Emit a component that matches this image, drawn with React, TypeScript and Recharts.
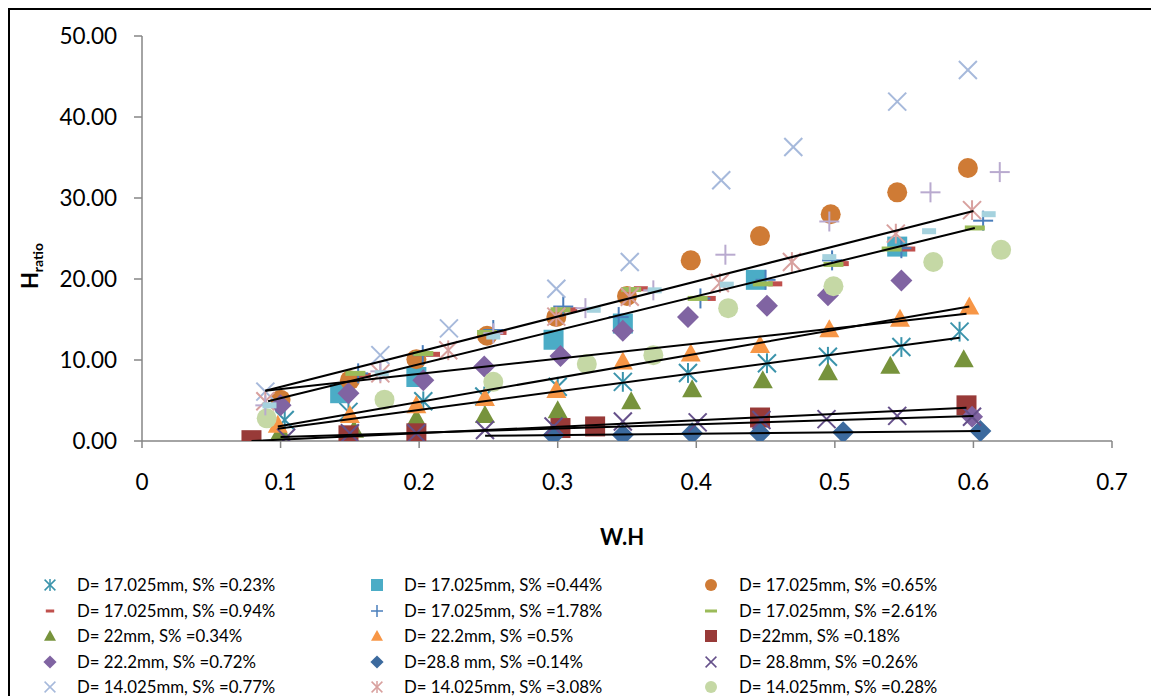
import React from 'react';
import { ScatterChart, Scatter, XAxis, YAxis } from 'recharts';

const FONT = 'Lato, "Open Sans", sans-serif';

// ---- axis ticks ----
const xTicks = [0, 0.1, 0.2, 0.3, 0.4, 0.5, 0.6, 0.7];
const yTicks = [0, 10, 20, 30, 40, 50];

// ---- series values [W.H, Hratio] ----
const s_17_023: number[][] = [[0.103,2.6],[0.149,3.6],[0.203,4.9],[0.247,5.5],[0.3,6.7],[0.347,7.3],[0.394,8.4],[0.451,9.6],[0.495,10.4],[0.548,11.6],[0.59,13.5]];
const s_17_044: number[][] = [[0.143,5.9],[0.198,7.9],[0.297,12.5],[0.347,14.5],[0.443,19.9],[0.545,24.0]];
const s_17_065: number[][] = [[0.1,5.1],[0.15,7.5],[0.198,10.1],[0.249,13.0],[0.299,15.3],[0.35,17.9],[0.396,22.3],[0.446,25.3],[0.497,28.0],[0.545,30.7],[0.596,33.7]];
const s_17_094: number[][] = [[0.16,8.1],[0.21,10.7],[0.258,13.4],[0.309,16.2],[0.36,18.8],[0.409,17.6],[0.457,19.4],[0.505,21.9],[0.553,23.7]];
const s_17_178: number[][] = [[0.156,8.35],[0.2026,10.6],[0.2535,13.7],[0.304,16.6],[0.344,15.3],[0.403,17.6],[0.45,19.9],[0.498,22.3],[0.548,23.8],[0.607,27.2]];
const s_17_261: number[][] = [[0.154,8.35],[0.203,10.8],[0.249,13.4],[0.302,16.2],[0.353,18.7],[0.401,17.6],[0.448,19.4],[0.499,21.8],[0.541,23.7],[0.601,26.3]];
const s_22_034: number[][] = [[0.1,1.2],[0.153,1.4],[0.198,2.8],[0.2475,3.2],[0.3,3.8],[0.353,4.9],[0.397,6.4],[0.448,7.5],[0.495,8.5],[0.54,9.3],[0.593,10.1]];
const s_222_05: number[][] = [[0.098,2.0],[0.15,3.2],[0.198,4.4],[0.2475,5.3],[0.299,6.3],[0.347,9.8],[0.396,10.8],[0.446,11.85],[0.496,13.8],[0.547,15.1],[0.597,16.6]];
const s_22_018: number[][] = [[0.079,0.1],[0.149,0.7],[0.198,0.95],[0.302,1.6],[0.327,1.8],[0.446,2.9],[0.595,4.4]];
const s_222_072: number[][] = [[0.1,4.4],[0.149,5.9],[0.203,7.5],[0.247,9.2],[0.302,10.5],[0.347,13.6],[0.394,15.3],[0.451,16.7],[0.495,18.0],[0.548,19.8],[0.599,3.0]];
const s_288_014: number[][] = [[0.297,0.74],[0.347,0.74],[0.397,0.95],[0.446,0.95],[0.506,1.07],[0.605,1.23]];
const s_288_026: number[][] = [[0.104,0.4],[0.15,0.95],[0.198,0.95],[0.2475,1.35],[0.297,1.8],[0.347,2.4],[0.401,2.3],[0.447,2.6],[0.494,2.7],[0.545,3.1],[0.599,3.0]];
const s_14_077: number[][] = [[0.089,6.1],[0.172,10.6],[0.2215,13.9],[0.299,18.8],[0.352,22.1],[0.418,32.2],[0.47,36.3],[0.545,41.9],[0.596,45.8]];
const s_14_308: number[][] = [[0.089,4.9],[0.172,8.35],[0.221,11.2],[0.299,15.35],[0.352,17.8],[0.417,19.5],[0.469,22.1],[0.544,25.6],[0.599,28.5]];
const s_14_028: number[][] = [[0.09,2.8],[0.175,5.1],[0.2535,7.3],[0.321,9.5],[0.369,10.6],[0.423,16.4],[0.499,19.1],[0.571,22.1],[0.62,23.6]];
const s_extra_plus: number[][] = [[0.089,4.4],[0.172,8.6],[0.2535,13.3],[0.32,16.4],[0.369,18.6],[0.421,23.0],[0.496,27.1],[0.569,30.7],[0.619,33.2]];
const s_extra_dash: number[][] = [[0.092,4.4],[0.173,8.35],[0.2535,12.9],[0.326,16.2],[0.37,18.6],[0.422,19.3],[0.496,22.7],[0.568,25.9],[0.611,28.0]];

// ---- linear trend lines (end points) ----
const t_14_308: number[][] = [[0.089,6.2],[0.6,28.4]];
const t_17_261: number[][] = [[0.091,4.9],[0.601,26.3]];
const t_222_072: number[][] = [[0.089,6.2],[0.595,15.7]];
const t_222_05: number[][] = [[0.098,1.8],[0.597,16.6]];
const t_17_023: number[][] = [[0.098,1.5],[0.59,12.75]];
const t_22_018: number[][] = [[0.079,0.0],[0.595,4.1]];
const t_288_026: number[][] = [[0.1,0.5],[0.6,3.1]];
const t_288_014: number[][] = [[0.2476,0.65],[0.605,1.23]];

type Kind = 'circle' | 'square' | 'triangle' | 'diamond' | 'x' | 'star' | 'plus' | 'dash';

interface SeriesDef {
  name: string;
  data: number[][];
  kind: Kind;
  color: string;
  size: number;
  dashW?: number;
  dashH?: number;
}

const series: SeriesDef[] = [
  { name: 'D= 17.025mm, S% =0.23%', data: s_17_023, kind: 'star', color: '#3A93AB', size: 9 },
  { name: 'D= 17.025mm, S% =0.44%', data: s_17_044, kind: 'square', color: '#4BACC6', size: 10 },
  { name: 'D= 17.025mm, S% =0.65%', data: s_17_065, kind: 'circle', color: '#CF7B35', size: 10 },
  { name: 'D= 17.025mm, S% =0.94%', data: s_17_094, kind: 'dash', color: '#C0504D', size: 7, dashW: 14, dashH: 5 },
  { name: 'D= 17.025mm, S% =1.78%', data: s_17_178, kind: 'plus', color: '#4A7EBB', size: 10 },
  { name: 'D= 17.025mm, S% =2.61%', data: s_17_261, kind: 'dash', color: '#9BBB59', size: 10, dashW: 20, dashH: 5 },
  { name: 'D= 22mm, S% =0.34%', data: s_22_034, kind: 'triangle', color: '#77933C', size: 10 },
  { name: 'D= 22.2mm, S% =0.5%', data: s_222_05, kind: 'triangle', color: '#F79646', size: 10 },
  { name: 'D=22mm, S% =0.18%', data: s_22_018, kind: 'square', color: '#983A38', size: 10 },
  { name: 'D= 22.2mm, S% =0.72%', data: s_222_072, kind: 'diamond', color: '#8064A2', size: 11 },
  { name: 'D=28.8 mm, S% =0.14%', data: s_288_014, kind: 'diamond', color: '#3C6A9E', size: 11 },
  { name: 'D= 28.8mm, S% =0.26%', data: s_288_026, kind: 'x', color: '#65508A', size: 9 },
  { name: 'D= 14.025mm, S% =0.77%', data: s_14_077, kind: 'x', color: '#A6B9DB', size: 9 },
  { name: 'D= 14.025mm, S% =3.08%', data: s_14_308, kind: 'star', color: '#D8A09E', size: 9 },
  { name: 'D= 14.025mm, S% =0.28%', data: s_14_028, kind: 'circle', color: '#C5D8A5', size: 10 },
  { name: '', data: s_extra_plus, kind: 'plus', color: '#B9AACF', size: 10 },
  { name: '', data: s_extra_dash, kind: 'dash', color: '#A5D2DE', size: 7, dashW: 14, dashH: 6 },
];

const trends: number[][][] = [t_14_308, t_17_261, t_222_072, t_222_05, t_17_023, t_22_018, t_288_026, t_288_014];

function marker(def: SeriesDef, cx: number, cy: number, scale: number) {
  const s = def.size * scale;
  const c = def.color;
  const sw = 2 * Math.max(scale, 0.75);
  switch (def.kind) {
    case 'circle':
      return <circle cx={cx} cy={cy} r={s} fill={c} />;
    case 'square':
      return <rect x={cx - s} y={cy - s} width={2 * s} height={2 * s} fill={c} />;
    case 'triangle':
      return <polygon points={`${cx},${cy - s} ${cx + s},${cy + s * 0.8} ${cx - s},${cy + s * 0.8}`} fill={c} />;
    case 'diamond':
      return <polygon points={`${cx},${cy - s} ${cx + s},${cy} ${cx},${cy + s} ${cx - s},${cy}`} fill={c} />;
    case 'x':
      return (
        <g stroke={c} strokeWidth={sw}>
          <line x1={cx - s} y1={cy - s} x2={cx + s} y2={cy + s} />
          <line x1={cx - s} y1={cy + s} x2={cx + s} y2={cy - s} />
        </g>
      );
    case 'star':
      return (
        <g stroke={c} strokeWidth={sw}>
          <line x1={cx - s} y1={cy - s} x2={cx + s} y2={cy + s} />
          <line x1={cx - s} y1={cy + s} x2={cx + s} y2={cy - s} />
          <line x1={cx} y1={cy - s * 1.1} x2={cx} y2={cy + s * 1.1} />
        </g>
      );
    case 'plus':
      return (
        <g stroke={c} strokeWidth={sw}>
          <line x1={cx - s} y1={cy} x2={cx + s} y2={cy} />
          <line x1={cx} y1={cy - s} x2={cx} y2={cy + s} />
        </g>
      );
    case 'dash': {
      const w = (def.dashW || 14) * scale;
      const h = Math.max((def.dashH || 5) * scale, 3);
      return <rect x={cx - w / 2} y={cy - h / 2} width={w} height={h} fill={c} />;
    }
  }
  return <g />;
}

const toPts = (d: number[][]) => d.map(([x, y]) => ({ x, y }));

const legendItems = series.filter((s) => s.name !== '');
const legendCols = [{ icon: 50, text: 77 }, { icon: 377, text: 404 }, { icon: 711, text: 739 }];
const legendRows = [585, 610.5, 636, 661.5, 686.5];

export default function App() {
  return (
    <div
      style={{
        position: 'fixed',
        left: 8,
        top: 8,
        width: 1141,
        height: 686,
        borderLeft: '2px solid #000',
        borderTop: '2px solid #000',
        overflow: 'hidden',
        background: '#fff',
        fontFamily: FONT,
      }}
    >
      <div style={{ position: 'absolute', left: 0, top: 0 }}>
        <ScatterChart width={1141} height={520} margin={{ top: 26, right: 39, left: 0, bottom: 59 }}>
          <XAxis
            type="number"
            dataKey="x"
            domain={[0, 0.7]}
            ticks={xTicks}
            interval={0}
            allowDataOverflow
            tickFormatter={(v: number) => (v === 0 ? '0' : String(v))}
            stroke="#868686"
            strokeWidth={1.5}
            tickSize={7}
            tickMargin={26}
            tick={{ fill: '#000', fontSize: 22.5, fontFamily: FONT }}
            height={30}
          />
          <YAxis
            type="number"
            dataKey="y"
            domain={[0, 50]}
            ticks={yTicks}
            interval={0}
            allowDataOverflow
            tickFormatter={(v: number) => v.toFixed(2)}
            stroke="#868686"
            strokeWidth={1.5}
            tickSize={8}
            tickMargin={17}
            tick={{ fill: '#000', fontSize: 22.5, fontFamily: FONT }}
            width={132}
          />
          {series.map((def, i) => (
            <Scatter
              key={'s' + i}
              name={def.name || 'extra' + i}
              data={toPts(def.data)}
              isAnimationActive={false}
              shape={(p: any) => marker(def, p.cx, p.cy, 1)}
            />
          ))}
          {trends.map((t, i) => (
            <Scatter
              key={'t' + i}
              name={'trend' + i}
              data={toPts(t)}
              isAnimationActive={false}
              line={{ stroke: '#000', strokeWidth: 2 }}
              lineType="joint"
              shape={() => <g />}
            />
          ))}
        </ScatterChart>
      </div>

      <div
        style={{
          position: 'absolute',
          left: 612 - 100,
          top: 537 - 10 - 14,
          width: 200,
          textAlign: 'center',
          fontWeight: 'bold',
          fontSize: 22,
          lineHeight: '28px',
        }}
      >
        W.H
      </div>

      <div
        style={{
          position: 'absolute',
          left: 30 - 10 - 60,
          top: 266 - 10 - 14,
          width: 120,
          height: 28,
          textAlign: 'center',
          fontWeight: 'bold',
          fontSize: 22,
          lineHeight: '28px',
          transform: 'rotate(-90deg)',
          whiteSpace: 'nowrap',
        }}
      >
        H<sub style={{ fontSize: 14 }}>ratio</sub>
      </div>

      {legendItems.map((def, i) => {
        const col = legendCols[i % 3];
        const row = legendRows[Math.floor(i / 3)];
        return (
          <React.Fragment key={'lg' + i}>
            <svg
              width={24}
              height={24}
              style={{ position: 'absolute', left: col.icon - 10 - 12, top: row - 10 - 12 }}
            >
              {marker(def, 12, 12, 0.6)}
            </svg>
            <div
              style={{
                position: 'absolute',
                left: col.text - 10,
                top: row - 10 - 11,
                height: 22,
                lineHeight: '22px',
                fontSize: 16.8,
                whiteSpace: 'nowrap',
                color: '#000',
              }}
            >
              {def.name}
            </div>
          </React.Fragment>
        );
      })}
    </div>
  );
}
